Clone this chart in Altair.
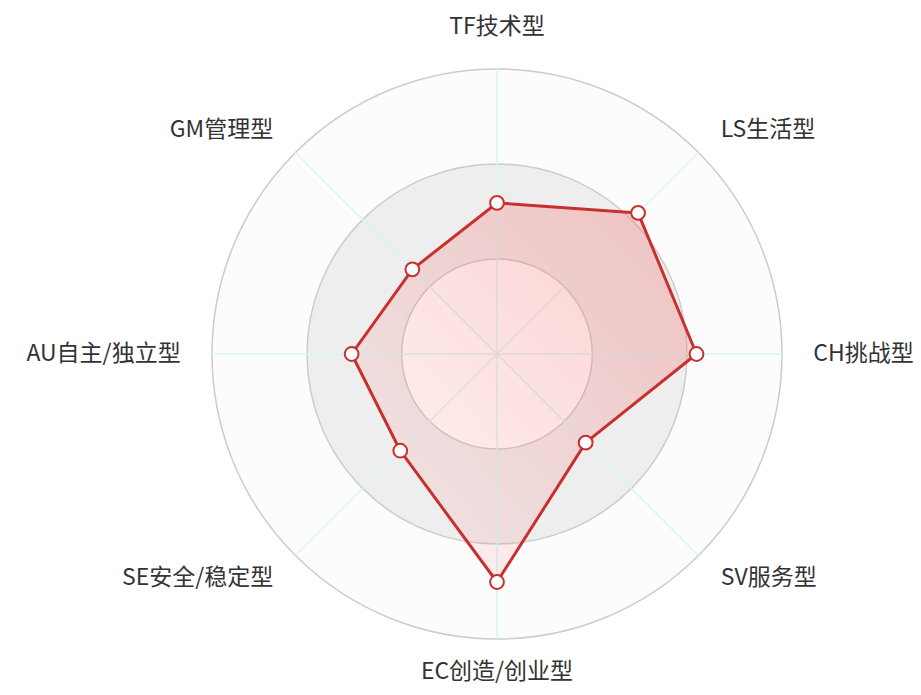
import math
import altair as alt
import pandas as pd

# ---- data ----
indicators = ["TF技术型", "LS生活型", "CH挑战型", "SV服务型",
              "EC创造/创业型", "SE安全/稳定型", "AU自主/独立型", "GM管理型"]
values = [53, 70, 70, 44, 80, 48, 51, 42]
max_value = 100
ring_levels = [100, 66.67, 33.33]
ring_fills = ["#fcfcfc", "#eeeeee", "#ffffff"]

# ---- layout constants (pixels in svg coords) ----
CX, CY, R = 489, 346, 285
W, H = 905, 679

n = len(indicators)
angles = [2 * math.pi * i / n for i in range(n)]  # clockwise from top

pts = pd.DataFrame({
    "name": indicators,
    "value": values,
    "order": list(range(n)),
    "x": [v * math.sin(a) for v, a in zip(values, angles)],
    "y": [v * math.cos(a) for v, a in zip(values, angles)],
})

spokes = pd.DataFrame({
    "x": [0.0] * n, "y": [0.0] * n,
    "x2": [max_value * math.sin(a) for a in angles],
    "y2": [max_value * math.cos(a) for a in angles],
})

rings = pd.DataFrame({
    "level": ring_levels,
    "px": [lv / max_value * R for lv in ring_levels],
    "fill": ring_fills,
    "k": [0, 1, 2],
})

def label_pos(a):
    s, c = math.sin(a), math.cos(a)
    if abs(s) < 1e-6:
        lr = 114.8 if c > 0 else 111.6
        align = "center"
    else:
        lr = 111
        align = "left" if s > 0 else "right"
    return lr * s, lr * c, align

lab_rows = []
for name, a in zip(indicators, angles):
    x, y, al = label_pos(a)
    lab_rows.append({"name": name, "x": x, "y": y, "align": al})
labels = pd.DataFrame(lab_rows)

xs = alt.Scale(domain=[-max_value, max_value], range=[CX - R, CX + R])
ys = alt.Scale(domain=[-max_value, max_value], range=[CY + R, CY - R])

disk_layers = []
for _, row in rings.iterrows():
    disk_layers.append(
        alt.Chart(rings[rings["k"] == row["k"]]).mark_arc(
            theta=0, theta2=2 * math.pi, stroke="#cccccc", strokeWidth=1.5,
            fill=row["fill"]).encode(
            x=alt.value(CX), y=alt.value(CY),
            radius=alt.Radius("px:Q", scale=None),
        )
    )

spoke = alt.Chart(spokes).mark_rule(color="#d9f6f6", strokeWidth=1.5).encode(
    x=alt.X("x:Q", scale=xs, axis=None),
    y=alt.Y("y:Q", scale=ys, axis=None),
    x2="x2:Q", y2="y2:Q",
)

grad = alt.LinearGradient(
    gradient="linear",
    stops=[alt.GradientStop(color="rgba(250,110,110,0.05)", offset=0),
           alt.GradientStop(color="rgba(240,105,105,0.34)", offset=1)],
    x1=0, y1=1, x2=1, y2=0,
)

poly = alt.Chart(pts).mark_line(interpolate="linear-closed", fill=grad,
                                stroke="#c8302e", strokeWidth=3, strokeJoin="round").encode(
    x=alt.X("x:Q", scale=xs, axis=None),
    y=alt.Y("y:Q", scale=ys, axis=None),
    order="order:Q",
)

dots = alt.Chart(pts).mark_point(shape="circle", filled=True, fill="white", size=190,
                                 stroke="#c8302e", strokeWidth=2, opacity=1).encode(
    x=alt.X("x:Q", scale=xs, axis=None),
    y=alt.Y("y:Q", scale=ys, axis=None),
)

text_layers = []
for al in ["left", "right", "center"]:
    sub = labels[labels["align"] == al]
    text_layers.append(
        alt.Chart(sub).mark_text(align=al, baseline="middle", fontSize=23,
                                 font="Noto Sans CJK SC", color="#333333").encode(
            x=alt.X("x:Q", scale=xs, axis=None),
            y=alt.Y("y:Q", scale=ys, axis=None),
            text="name:N",
        )
    )

chart = alt.layer(*disk_layers, spoke, poly, dots, *text_layers).properties(
    width=W, height=H, autosize=alt.AutoSizeParams(type="none"), padding=0,
    background="white",
).configure_view(stroke=None, strokeWidth=0)

chart.save("out.html", embed_options={"renderer": "svg", "actions": False})
